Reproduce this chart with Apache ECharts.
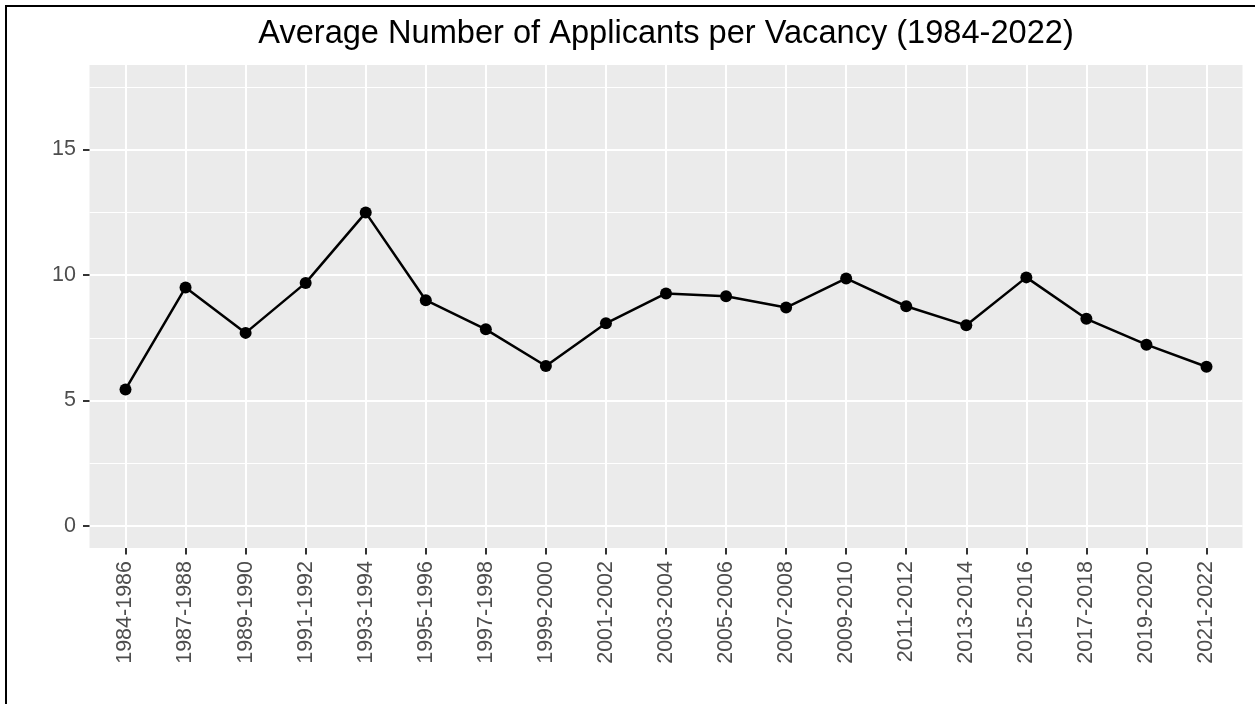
<!DOCTYPE html>
<html>
<head>
<meta charset="utf-8">
<script src="https://cdn.jsdelivr.net/npm/echarts@6/dist/echarts.min.js"></script>
<style>
  html, body { margin: 0; padding: 0; background: #ffffff; }
  #chart { width: 1255px; height: 704px; }
</style>
</head>
<body>
<div id="chart"></div>
<script>
const titleText = 'Average Number of Applicants per Vacancy (1984-2022)';
const periods = ['1984-1986','1987-1988','1989-1990','1991-1992','1993-1994','1995-1996','1997-1998','1999-2000','2001-2002','2003-2004','2005-2006','2007-2008','2009-2010','2011-2012','2013-2014','2015-2016','2017-2018','2019-2020','2021-2022'];
const applicantsPerVacancy = [5.44, 9.50, 7.69, 9.68, 12.48, 8.99, 7.83, 6.37, 8.07, 9.26, 9.15, 8.70, 9.86, 8.75, 7.99, 9.90, 8.25, 7.22, 6.34];
const yTicks = [0, 5, 10, 15];

const FONT = "'Liberation Sans', Arial, sans-serif";
const chart = echarts.init(document.getElementById('chart'), null, { renderer: 'canvas' });

// panel geometry (ggplot-like expansion: 0.6 category units, 5% of y range)
const panel = { left: 89.5, right: 12.5, top: 65, bottom: 156 };
const dataGrid = { left: 125.5, right: 48.5, top: 149.3, bottom: 178 };
const xTickGrid = { left: 125.5, right: 48.5, top: 65, bottom: 156 };
const yMaxData = 17.5;
const yExpand = yMaxData * 0.05;

chart.setOption({
  animation: false,
  backgroundColor: '#ffffff',
  graphic: [{
    type: 'rect',
    shape: { x: 6, y: 6, width: 1400, height: 900 },
    style: { fill: 'none', stroke: '#000000', lineWidth: 2 },
    silent: true, z: 100
  }],
  title: {
    text: titleText,
    left: 666,
    top: 18,
    padding: 0,
    textAlign: 'center',
    textStyle: { fontFamily: FONT, fontSize: 32.6, fontWeight: 'normal', color: '#000000' }
  },
  grid: [
    Object.assign({ show: true, backgroundColor: '#EBEBEB', borderWidth: 0, containLabel: false }, panel),
    Object.assign({ show: false, containLabel: false }, dataGrid),
    Object.assign({ show: false, containLabel: false }, xTickGrid)
  ],
  xAxis: [
    {
      gridIndex: 0, type: 'value',
      min: -0.6, max: periods.length - 1 + 0.6,
      splitNumber: periods.length,
      axisLine: { show: false }, axisTick: { show: false }, axisLabel: { show: false },
      splitLine: { show: true, showMinLine: false, showMaxLine: false, lineStyle: { color: '#ffffff', width: 2 } }
    },
    {
      gridIndex: 1, type: 'category', data: periods, boundaryGap: false,
      axisLine: { show: false }, axisTick: { show: false }, axisLabel: { show: false },
      splitLine: { show: false }
    },
    {
      gridIndex: 2, type: 'category', data: periods, boundaryGap: false,
      axisLine: { show: false },
      axisTick: { show: true, length: 6.5, lineStyle: { color: '#333333', width: 2 } },
      axisLabel: { show: true, rotate: 90, margin: 13, interval: 0, color: '#4D4D4D', fontFamily: FONT, fontSize: 21.5 },
      splitLine: { show: false }
    }
  ],
  yAxis: [
    {
      gridIndex: 0, type: 'value',
      min: -yExpand, max: yMaxData + yExpand,
      splitNumber: 4,
      axisLine: { show: false }, axisTick: { show: false }, axisLabel: { show: false },
      minorTick: { show: false, splitNumber: 2 },
      splitLine: { show: true, showMinLine: false, showMaxLine: false, lineStyle: { color: '#ffffff', width: 2 } },
      minorSplitLine: { show: true, lineStyle: { color: '#ffffff', width: 1.2 } }
    },
    {
      gridIndex: 1, type: 'value',
      min: yTicks[0], max: yTicks[yTicks.length - 1], interval: yTicks[1] - yTicks[0],
      offset: 36,
      axisLine: { show: false },
      axisTick: { show: true, length: 6.5, lineStyle: { color: '#333333', width: 2 } },
      axisLabel: { show: true, margin: 13.5, color: '#4D4D4D', fontFamily: FONT, fontSize: 21.5 },
      splitLine: { show: false }
    },
    {
      gridIndex: 2, type: 'value', show: false
    }
  ],
  series: [{
    type: 'line',
    xAxisIndex: 1, yAxisIndex: 1,
    data: applicantsPerVacancy,
    clip: false,
    symbol: 'circle',
    symbolSize: 12,
    showAllSymbol: true,
    lineStyle: { color: '#000000', width: 2.5 },
    itemStyle: { color: '#000000' },
    emphasis: { disabled: true },
    z: 5
  }]
});
</script>
</body>
</html>
